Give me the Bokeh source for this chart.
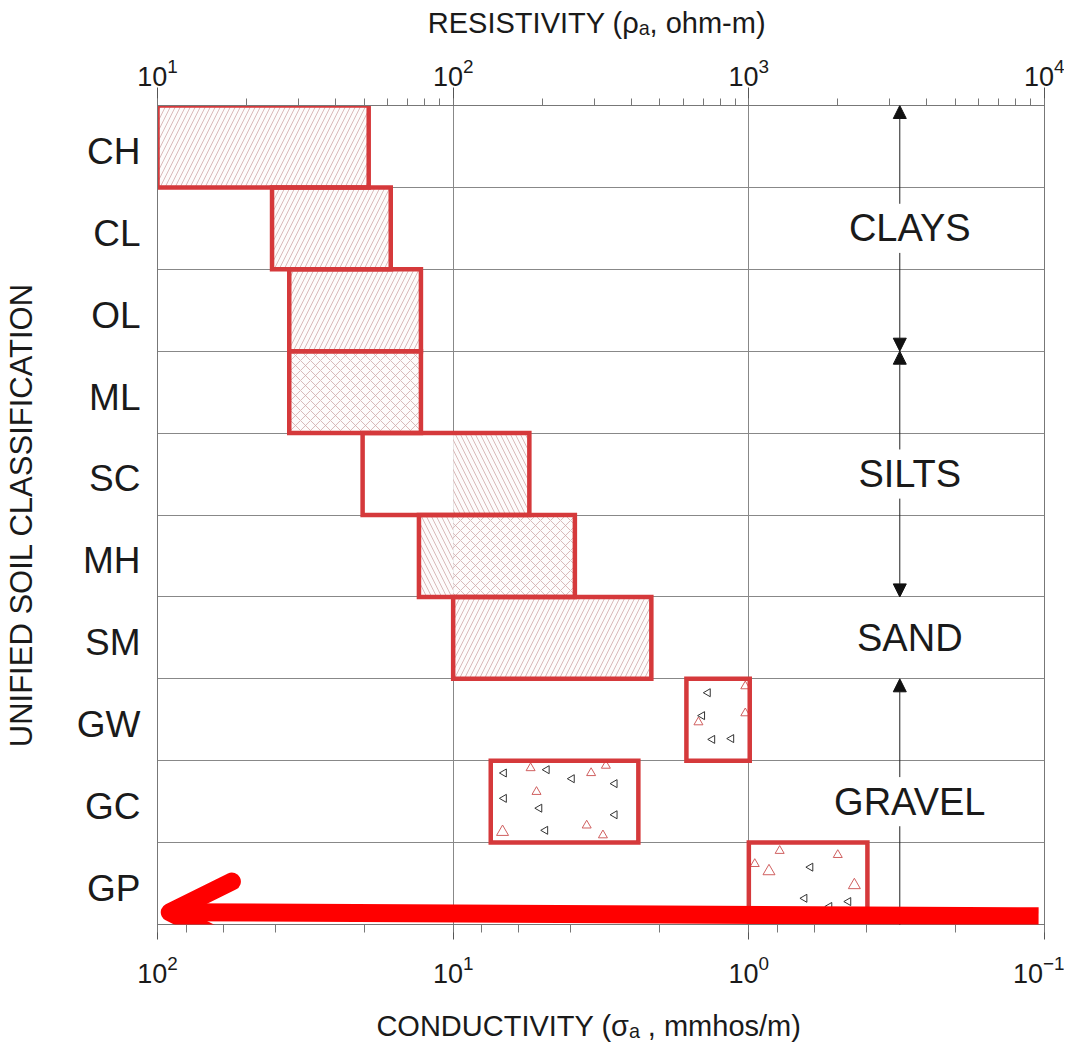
import math
from bokeh.plotting import figure
from bokeh.models import (Range1d, LogScale, LogAxis, FixedTicker, ColumnDataSource,
                          Arrow, NormalHead, OpenHead)
from bokeh.embed import file_html
from bokeh.resources import INLINE
from bokeh.core.properties import value

# ---------------- data ----------------
soil_classes = ["CH", "CL", "OL", "ML", "SC", "MH", "SM", "GW", "GC", "GP"]
res_low = [10, 24.4, 27.9, 27.9, 49.4, 76.6, 100, 615, 134, 1000]       # ohm-m
res_high = [51.8, 61.5, 77.8, 77.8, 181, 258, 468, 1007, 423, 2518]     # ohm-m

hatch_class = ["CH", "CL", "OL", "ML", "SC", "MH", "MH", "SM"]
hatch_low = [10, 24.4, 27.9, 27.9, 100, 76.6, 100, 100]
hatch_high = [51.8, 61.5, 77.8, 77.8, 181, 100, 258, 468]
hatch_style = ["right_diagonal_line", "right_diagonal_line", "right_diagonal_line",
               "diagonal_cross", "left_diagonal_line", "left_diagonal_line",
               "diagonal_cross", "right_diagonal_line"]

# gravel texture: relative positions inside each gravel box (fraction of box)
gravel_class = (["GC"] * 15) + (["GW"] * 7) + (["GP"] * 9)
gravel_fx = [0.09, 0.27, 0.38, 0.55, 0.68, 0.78, 0.84, 0.31, 0.09, 0.33, 0.84, 0.08, 0.37, 0.65, 0.76,
             0.34, 0.93, 0.25, 0.19, 0.93, 0.41, 0.71,
             0.26, 0.05, 0.17, 0.52, 0.75, 0.89, 0.47, 0.68, 0.84]
gravel_fy = [0.15, 0.09, 0.11, 0.22, 0.15, 0.06, 0.28, 0.38, 0.46, 0.58, 0.66, 0.87, 0.85, 0.79, 0.91,
             0.17, 0.09, 0.45, 0.53, 0.42, 0.74, 0.73,
             0.10, 0.26, 0.35, 0.30, 0.15, 0.52, 0.68, 0.78, 0.72]
gravel_kind = ["k", "r", "k", "k", "r", "r", "k", "r", "k", "k", "k", "R", "k", "r", "r",
               "k", "r", "k", "r", "r", "k", "k",
               "r", "r", "R", "k", "r", "R", "k", "k", "k"]

group_names = ["CLAYS", "SILTS", "SAND", "GRAVEL"]
group_first = ["CH", "ML", "SM", "GW"]
group_last = ["OL", "MH", "SM", "GP"]
group_label_row = ["CL", "SC", "SM", "GC"]
group_res = 3240  # resistivity position of the bracket arrows

red_arrow_res = [9550, 11.0]
red_arrow_row = [0.10, 0.15]

top_title = "RESISTIVITY  (\u03c1\u2090, ohm-m)"
bottom_title = "CONDUCTIVITY   (\u03c3\u2090  , mmhos/m)"
left_title = "UNIFIED SOIL CLASSIFICATION"

# ---------------- helpers ----------------
n = len(soil_classes)
idx = {c: i for i, c in enumerate(soil_classes)}
def row_top(c):
    return n - idx[c]
def row_bot(c):
    return n - idx[c] - 1

FONT = "Liberation Sans"
RED = "#d5393b"

p = figure(width=1064, height=1044, x_axis_type="log",
           x_range=Range1d(10, 1e4), y_range=Range1d(0, n),
           x_axis_location="above", output_backend="svg", toolbar_location=None,
           min_border_left=151, min_border_right=20, min_border_top=105, min_border_bottom=119)
p.outline_line_color = "#777777"
p.background_fill_color = "white"

# grids
p.xgrid.grid_line_color = "#888888"
p.ygrid.ticker = FixedTicker(ticks=list(range(1, n)))
p.ygrid.grid_line_color = "#888888"

# top (resistivity) axis
ax = p.xaxis[0]
ax.axis_label = top_title
ax.axis_label_text_font = FONT
ax.axis_label_text_font_style = "normal"
ax.axis_label_text_font_size = "29px"
ax.axis_label_text_color = "#1a1a1a"
ax.axis_label_standoff = 16
ax.major_label_text_font = FONT
ax.major_label_text_font_size = "27px"
ax.major_label_text_color = "#1a1a1a"
ax.major_label_standoff = 2
ax.major_tick_out = 18
ax.major_tick_in = 0
ax.minor_tick_out = 7
ax.minor_tick_in = 0
ax.axis_line_color = "#777777"
ax.major_tick_line_color = "#555555"
ax.minor_tick_line_color = "#777777"

# bottom (conductivity) axis
p.extra_x_ranges = {"cond": Range1d(100, 0.1)}
p.extra_x_scales = {"cond": LogScale()}
bx = LogAxis(x_range_name="cond", axis_label=bottom_title)
bx.axis_label_text_font = FONT
bx.axis_label_text_font_style = "normal"
bx.axis_label_text_font_size = "29px"
bx.axis_label_text_color = "#1a1a1a"
bx.axis_label_standoff = 24
bx.major_label_text_font = FONT
bx.major_label_text_font_size = "27px"
bx.major_label_text_color = "#1a1a1a"
bx.major_label_standoff = 15
bx.major_tick_out = 15
bx.major_tick_in = 0
bx.minor_tick_out = 8
bx.minor_tick_in = 0
bx.axis_line_color = "#777777"
bx.major_tick_line_color = "#555555"
bx.minor_tick_line_color = "#777777"
p.add_layout(bx, "below")

# left axis (soil classes)
ya = p.yaxis[0]
ya.ticker = FixedTicker(ticks=[n - i - 0.56 for i in range(n)])
ya.major_label_overrides = {n - i - 0.56: c for i, c in enumerate(soil_classes)}
ya.major_label_text_font = FONT
ya.major_label_text_font_size = "37px"
ya.major_label_text_color = "#1a1a1a"
ya.major_label_standoff = 11
ya.major_tick_line_color = None
ya.minor_tick_line_color = None
ya.axis_line_color = "#777777"
ya.axis_label = left_title
ya.axis_label_text_font = FONT
ya.axis_label_text_font_style = "normal"
ya.axis_label_text_font_size = "31px"
ya.axis_label_text_color = "#1a1a1a"
ya.axis_label_standoff = 35

# hatch areas
hsrc = ColumnDataSource(dict(
    left=hatch_low, right=hatch_high,
    top=[row_top(c) for c in hatch_class], bottom=[row_bot(c) for c in hatch_class],
    pattern=hatch_style))
p.quad(left="left", right="right", top="top", bottom="bottom", source=hsrc,
       fill_color="#fdfbfb", fill_alpha=1.0, line_color=None,
       hatch_pattern="pattern", hatch_color="#cfa8a8", hatch_weight=0.8, hatch_scale=10)

# gravel texture
gx, gy, gcol, gsize, gang = [], [], [], [], []
for c, fx, fy, k in zip(gravel_class, gravel_fx, gravel_fy, gravel_kind):
    i = idx[c]
    lo, hi = math.log10(res_low[i]), math.log10(res_high[i])
    gx.append(10 ** (lo + fx * (hi - lo)))
    gy.append(row_top(c) - fy)
    gcol.append("#333333" if k == "k" else "#d06060")
    gsize.append(8 if k == "k" else (9 if k == "r" else 12))
    gang.append(math.pi / 2 if k == "k" else 0.0)
p.scatter(x=gx, y=gy, marker="triangle", size=gsize, angle=gang,
          fill_color=None, line_color=gcol, line_width=1)

# outlines of class ranges
bsrc = ColumnDataSource(dict(
    left=res_low, right=res_high,
    top=[row_top(c) for c in soil_classes], bottom=[row_bot(c) for c in soil_classes]))
p.quad(left="left", right="right", top="top", bottom="bottom", source=bsrc,
       fill_color=None, line_color=RED, line_width=4.5, line_join="miter")

# group brackets
gap = 0.3
for name, first, last, lab in zip(group_names, group_first, group_last, group_label_row):
    ly = row_top(lab) - 0.5
    if first != last:
        p.add_layout(Arrow(x_start=group_res, y_start=ly + gap, x_end=group_res, y_end=row_top(first),
                           line_color="#222222", line_width=1,
                           end=NormalHead(size=13, fill_color="#111111", line_color="#111111", line_width=1)))
        p.add_layout(Arrow(x_start=group_res, y_start=ly - gap, x_end=group_res, y_end=row_bot(last),
                           line_color="#222222", line_width=1,
                           end=NormalHead(size=13, fill_color="#111111", line_color="#111111", line_width=1)))
p.text(x=[group_res] * len(group_names),
       y=[row_top(l) - 0.5 for l in group_label_row],
       text=group_names, x_offset=10, text_align="center", text_baseline="middle",
       text_font=value(FONT), text_font_size="38px", text_color="#1a1a1a")

# big red arrow
p.add_layout(Arrow(x_start=red_arrow_res[0], y_start=red_arrow_row[0],
                   x_end=red_arrow_res[1], y_end=red_arrow_row[1],
                   line_color="#ff0000", line_width=18, line_cap="butt",
                   end=OpenHead(size=62, line_color="#ff0000", line_width=18,
                                line_cap="round", line_join="round")))

open("out.html", "w").write(file_html(p, INLINE))
